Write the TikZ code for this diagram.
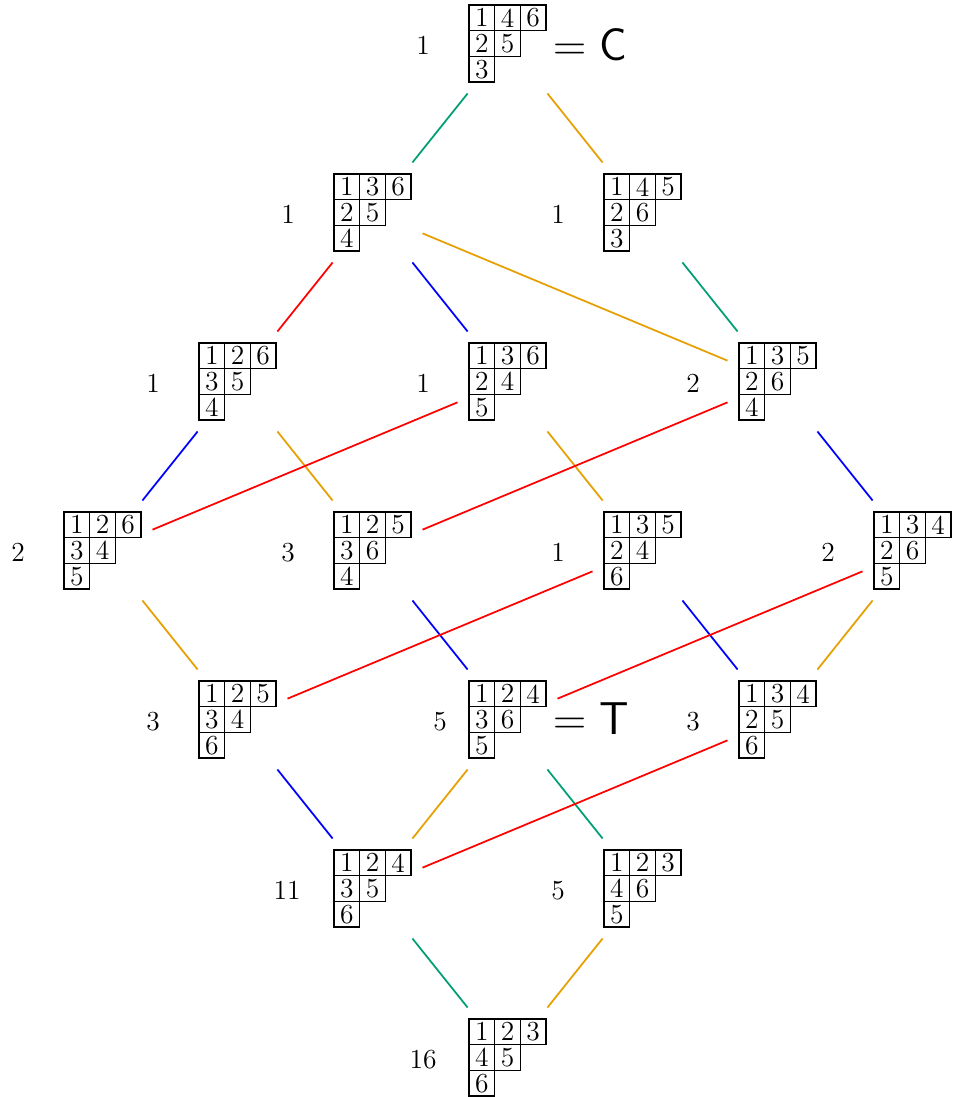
\documentclass[tikz,border=0pt]{standalone}
\usepackage{fontspec}
\usetikzlibrary{calc}
\definecolor{myg}{RGB}{0,158,115}
\definecolor{myo}{RGB}{230,159,0}
\definecolor{myr}{RGB}{255,0,0}
\definecolor{myb}{RGB}{0,0,255}
\newcommand{\yt}[8]{%
  \begin{scope}[shift={(#2)}]
    \node[tabnode] (#1) at (0,0) {};
    \node[cell] at (-25.67,-25.67) {#3};
    \node[cell] at (0,-25.67) {#4};
    \node[cell] at (25.67,-25.67) {#5};
    \node[cell] at (-25.67,0) {#6};
    \node[cell] at (0,0) {#7};
    \node[cell] at (-25.67,25.67) {#8};
  \end{scope}}
\begin{document}
\begin{tikzpicture}[x=0.4pt,y=-0.4pt,
  tabnode/.style={minimum width=39.6pt,minimum height=39.6pt,inner sep=0pt},
  cell/.style={draw,line width=0.5pt,minimum size=10.27pt,inner sep=0pt,font=\fontsize{11}{13}\selectfont},
  lbl/.style={font=\fontsize{11}{13}\selectfont,inner sep=0pt},
  big/.style={font=\fontsize{18.4}{20}\selectfont,inner sep=0pt,anchor=west},
  edge/.style={line width=0.7pt},
  eg/.style={edge,draw=myg},
  eo/.style={edge,draw=myo},
  er/.style={edge,draw=myr},
  eb/.style={edge,draw=myb}]
\useasboundingbox (0,0) rectangle (953,1097);
% tableaux
\yt{A}{507.5,43.5}{1}{4}{6}{2}{5}{3}
\yt{B1}{372.5,212.5}{1}{3}{6}{2}{5}{4}
\yt{B2}{642.5,212.5}{1}{4}{5}{2}{6}{3}
\yt{C1}{237.5,381.5}{1}{2}{6}{3}{5}{4}
\yt{C2}{507.5,381.5}{1}{3}{6}{2}{4}{5}
\yt{C3}{777.5,381.5}{1}{3}{5}{2}{6}{4}
\yt{D1}{102.5,550.5}{1}{2}{6}{3}{4}{5}
\yt{D2}{372.5,550.5}{1}{2}{5}{3}{6}{4}
\yt{D3}{642.5,550.5}{1}{3}{5}{2}{4}{6}
\yt{D4}{912.5,550.5}{1}{3}{4}{2}{6}{5}
\yt{E1}{237.5,719.5}{1}{2}{5}{3}{4}{6}
\yt{E2}{507.5,719.5}{1}{2}{4}{3}{6}{5}
\yt{E3}{777.5,719.5}{1}{3}{4}{2}{5}{6}
\yt{F1}{372.5,888.5}{1}{2}{4}{3}{5}{6}
\yt{F2}{642.5,888.5}{1}{2}{3}{4}{6}{5}
\yt{G}{507.5,1057.5}{1}{2}{3}{4}{5}{6}
% labels
\node[lbl] (lA) at (423,45.5) {1};
\node[lbl] (lB1) at (288,214.5) {1};
\node[lbl] (lB2) at (558,214.5) {1};
\node[lbl] (lC1) at (153,383.5) {1};
\node[lbl] (lC2) at (423,383.5) {1};
\node[lbl] (lC3) at (693,383.5) {2};
\node[lbl] (lD1) at (18,552.5) {2};
\node[lbl] (lD2) at (288,552.5) {3};
\node[lbl] (lD3) at (558,552.5) {1};
\node[lbl] (lD4) at (828,552.5) {2};
\node[lbl] (lE1) at (153,721.5) {3};
\node[lbl] (lE2) at (440,721.5) {5};
\node[lbl] (lE3) at (693,721.5) {3};
\node[lbl] (lF1) at (287,890.5) {11};
\node[lbl] (lF2) at (558,890.5) {5};
\node[lbl] (lG) at (423,1059.5) {16};
\node[big] (eqC) at (553,44.5) {=\kern0.278em\textsf{C}};
\node[big] (eqT) at (553,718.5) {=\kern0.278em\textsf{T}};
% edges
\draw[eg] (A) -- (B1);
\draw[eo] (A) -- (B2);
\draw[er] (B1) -- (C1);
\draw[eb] (B1) -- (C2);
\draw[eo] (B1) -- (C3);
\draw[eg] (B2) -- (C3);
\draw[eb] (C1) -- (D1);
\draw[eo] (C1) -- (D2);
\draw[er] (C2) -- (D1);
\draw[eo] (C2) -- (D3);
\draw[er] (C3) -- (D2);
\draw[eb] (C3) -- (D4);
\draw[eo] (D1) -- (E1);
\draw[eb] (D2) -- (E2);
\draw[er] (D3) -- (E1);
\draw[eb] (D3) -- (E3);
\draw[er] (D4) -- (E2);
\draw[eo] (D4) -- (E3);
\draw[eb] (E1) -- (F1);
\draw[eo] (E2) -- (F1);
\draw[eg] (E2) -- (F2);
\draw[er] (E3) -- (F1);
\draw[eg] (F1) -- (G);
\draw[eo] (F2) -- (G);
\end{tikzpicture}
\end{document}
